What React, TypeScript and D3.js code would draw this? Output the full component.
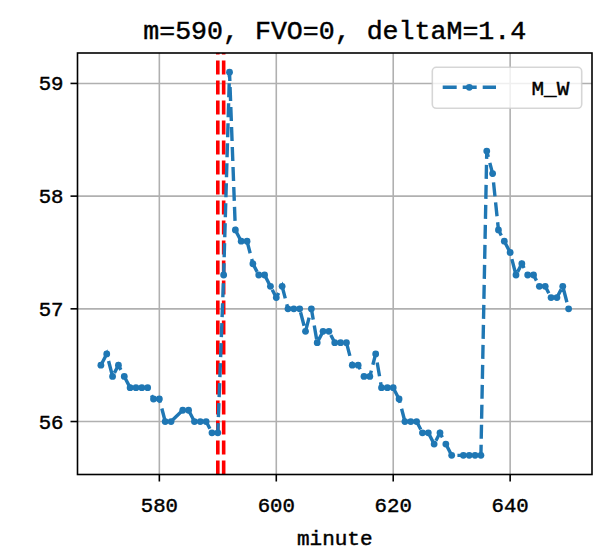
import React from "react";
import * as d3 from "d3";

const minutes = [
  570, 571, 572, 573, 574, 575, 576, 577, 578, 579, 580, 581, 582, 584, 585, 586, 587, 588, 589, 590,
  591, 592, 593, 594, 595, 596, 597, 598, 599, 600, 601, 602, 603, 604, 605, 606, 607, 608, 609, 610,
  611, 612, 613, 614, 615, 616, 617, 618, 619, 620, 621, 622, 623, 624, 625, 626, 627, 628, 629, 630,
  632, 633, 634, 635, 636, 637, 638, 639, 640, 641, 642, 643, 644, 645, 646, 647, 648, 649, 650,
];
const mwValues = [
  56.5, 56.6, 56.4, 56.5, 56.4, 56.3, 56.3, 56.3, 56.3, 56.2, 56.2, 56.0, 56.0, 56.1, 56.1, 56.0, 56.0, 56.0, 55.9, 55.9,
  57.3, 59.1, 57.7, 57.6, 57.6, 57.4, 57.3, 57.3, 57.2, 57.1, 57.2, 57.0, 57.0, 57.0, 56.8, 57.0, 56.7, 56.8, 56.8, 56.7,
  56.7, 56.7, 56.5, 56.5, 56.4, 56.4, 56.6, 56.3, 56.3, 56.3, 56.2, 56.0, 56.0, 56.0, 55.9, 55.9, 55.8, 55.9, 55.8, 55.7,
  55.7, 55.7, 55.7, 55.7, 58.4, 58.2, 57.7, 57.6, 57.5, 57.3, 57.4, 57.3, 57.3, 57.2, 57.2, 57.1, 57.1, 57.2, 57.0,
];
const markerMinutes = [590, 591];
const xTicks = [580, 600, 620, 640];
const yTicks = [56, 57, 58, 59];
const titleText = "m=590, FVO=0, deltaM=1.4";
const xLabel = "minute";
const seriesName = "M_W";

const W = 613;
const H = 554;
const plot = { left: 77.5, right: 592, top: 53, bottom: 474.5 };
const FONT = "'Liberation Mono', 'DejaVu Sans Mono', monospace";
const BLUE = "#1f77b4";
const textStroke = { stroke: "#000", strokeWidth: 0.45 };

export default function App() {
  const [x0, x1] = d3.extent(minutes) as [number, number];
  const [y0, y1] = d3.extent(mwValues) as [number, number];
  const xp = (x1 - x0) * 0.05;
  const yp = (y1 - y0) * 0.05;
  const x = d3.scaleLinear().domain([x0 - xp, x1 + xp]).range([plot.left, plot.right]);
  const y = d3.scaleLinear().domain([y0 - yp, y1 + yp]).range([plot.bottom, plot.top]);

  const pts = minutes.map((m, i) => [m, mwValues[i]] as [number, number]);
  const line = d3
    .line<[number, number]>()
    .x((d) => x(d[0]))
    .y((d) => y(d[1]));

  const dash = "14 6";
  const lw = 3.4;

  return (
    <svg
      width={W}
      height={H}
      viewBox={`0 0 ${W} ${H}`}
      style={{ position: "absolute", left: 0, top: 0, background: "#fff" }}
    >
      <rect x={0} y={0} width={W} height={H} fill="#fff" />
      <defs>
        <clipPath id="plotclip">
          <rect x={plot.left} y={plot.top} width={plot.right - plot.left} height={plot.bottom - plot.top} />
        </clipPath>
      </defs>
      {xTicks.map((t) => (
        <line key={"gx" + t} x1={x(t)} x2={x(t)} y1={plot.top} y2={plot.bottom} stroke="#b0b0b0" strokeWidth={1.6} />
      ))}
      {yTicks.map((t) => (
        <line key={"gy" + t} x1={plot.left} x2={plot.right} y1={y(t)} y2={y(t)} stroke="#b0b0b0" strokeWidth={1.6} />
      ))}
      <g clipPath="url(#plotclip)">
        {markerMinutes.map((m) => (
          <line
            key={"v" + m}
            x1={x(m)}
            x2={x(m)}
            y1={plot.bottom}
            y2={plot.top}
            stroke="#ff0000"
            strokeWidth={3.6}
            strokeDasharray={dash}
          />
        ))}
        <path d={line(pts) || ""} fill="none" stroke={BLUE} strokeWidth={lw} strokeDasharray={dash} />
        {pts.map((d, i) => (
          <circle key={"p" + i} cx={x(d[0])} cy={y(d[1])} r={3.4} fill={BLUE} />
        ))}
      </g>
      <rect
        x={plot.left}
        y={plot.top}
        width={plot.right - plot.left}
        height={plot.bottom - plot.top}
        fill="none"
        stroke="#000"
        strokeWidth={1.6}
      />
      {xTicks.map((t) => (
        <g key={"xt" + t}>
          <line x1={x(t)} x2={x(t)} y1={plot.bottom} y2={plot.bottom + 7} stroke="#000" strokeWidth={1.6} />
          <text
            x={x(t)}
            y={plot.bottom + 37}
            textAnchor="middle"
            fontFamily={FONT}
            fontSize={20.7}
            fill="#000"
            {...textStroke}
          >
            {t}
          </text>
        </g>
      ))}
      {yTicks.map((t) => (
        <g key={"yt" + t}>
          <line x1={plot.left - 7} x2={plot.left} y1={y(t)} y2={y(t)} stroke="#000" strokeWidth={1.6} />
          <text
            x={plot.left - 14}
            y={y(t) + 7}
            textAnchor="end"
            fontFamily={FONT}
            fontSize={20.7}
            fill="#000"
            {...textStroke}
          >
            {t}
          </text>
        </g>
      ))}
      <text
        x={(plot.left + plot.right) / 2}
        y={545}
        textAnchor="middle"
        fontFamily={FONT}
        fontSize={21}
        fill="#000"
        {...textStroke}
      >
        {xLabel}
      </text>
      <text
        x={(plot.left + plot.right) / 2}
        y={38.5}
        textAnchor="middle"
        fontFamily={FONT}
        fontSize={26.6}
        fill="#000"
        {...textStroke}
      >
        {titleText}
      </text>
      <g>
        <rect
          x={432.3}
          y={67.3}
          width={149.4}
          height={41}
          rx={4}
          fill="#fff"
          fillOpacity={0.8}
          stroke="#cccccc"
          strokeOpacity={0.8}
          strokeWidth={1.6}
        />
        <line x1={442.7} x2={496} y1={87.3} y2={87.3} stroke={BLUE} strokeWidth={lw} strokeDasharray={dash} />
        <circle cx={469.3} cy={87.3} r={3.4} fill={BLUE} />
        <text x={531.5} y={95} fontFamily={FONT} fontSize={21} fill="#000" {...textStroke}>
          {seriesName}
        </text>
      </g>
    </svg>
  );
}
